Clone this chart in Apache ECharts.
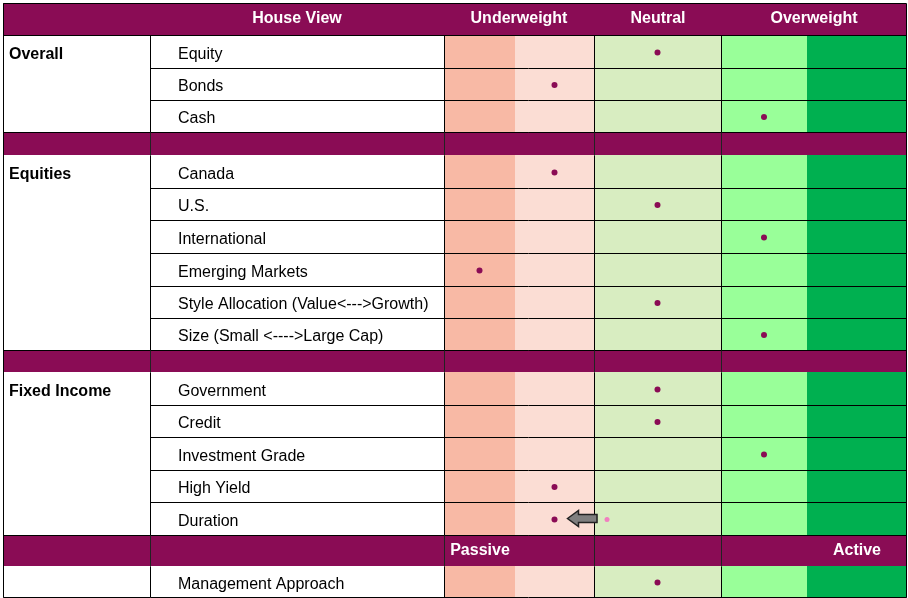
<!DOCTYPE html>
<html><head><meta charset="utf-8">
<script src="https://cdn.jsdelivr.net/npm/echarts@6/dist/echarts.min.js"></script>
<style>html,body{margin:0;padding:0;background:#fff}#c{width:908px;height:598px}</style>
</head><body><div id="c"></div>
<script>
// ---- data ----
const sections = ["Overall", "Equities", "Fixed Income", ""];
const items = [
  ["Equity","Bonds","Cash"],
  ["Canada","U.S.","International","Emerging Markets","Style Allocation (Value<--->Growth)","Size (Small <---->Large Cap)"],
  ["Government","Credit","Investment Grade","High Yield","Duration"],
  ["Management Approach"]
];
// levels: -2 strong underweight .. 2 strong overweight
const levels = [
  [0,-1,1],
  [-1,0,1,-2,0,1],
  [0,0,1,-1,-1],
  [0]
];
const headerLabels = ["House View","Underweight","Neutral","Overweight"];
const footerLabels = ["Passive","Active"];
const durationPrev = -0.49; // previous position of Duration (faded dot)

// ---- layout ----
const colX = [3,150,444,515,594,721,807,906];
const bandColors = ["#F8B9A5","#FBDDD4","#D8EDC1","#99FF99","#00B050"];
const purple = "#8A0C55";
const rowY = [3,35,68,100,132,155,188,220,253,286,318,350,372,405,437,470,502,535,566,597];
const centers = [0,1,2,3,4].map(i => (colX[i+2]+colX[i+3])/2);
function levelX(l){
  const f = l+2, i = Math.min(3, Math.floor(f));
  return centers[i] + (f-i)*(centers[i+1]-centers[i]);
}

const rects=[], lines=[], texts=[], dots=[];
rects.push([colX[0],rowY[0],colX[7],rowY[1],purple]);
texts.push([297,rowY[0]+16,headerLabels[0],'#fff','bold','center']);
texts.push([519,rowY[0]+16,headerLabels[1],'#fff','bold','center']);
texts.push([658,rowY[0]+16,headerLabels[2],'#fff','bold','center']);
texts.push([814,rowY[0]+16,headerLabels[3],'#fff','bold','center']);
let r = 1;
sections.forEach((s,si)=>{
  if(si>0){
    const y0=rowY[r], y1=rowY[r+1];
    rects.push([colX[0],y0,colX[7],y1,purple]);
    if(si===3){
      texts.push([480,(y0+y1)/2,footerLabels[0],'#fff','bold','center']);
      texts.push([857,(y0+y1)/2,footerLabels[1],'#fff','bold','center']);
    }
    [colX[1],colX[2],colX[4],colX[5]].forEach(x=>lines.push([x,y0,x,y1,'#222']));
    r++;
  }
  const top = rowY[r];
  items[si].forEach((it,ii)=>{
    const y0=rowY[r], y1=rowY[r+1];
    for(let c=0;c<5;c++) rects.push([colX[c+2],y0,colX[c+3],y1,bandColors[c]]);
    texts.push([178,(y0+y1)/2+3,it,'#000','normal','left']);
    dots.push([levelX(levels[si][ii]),(y0+y1)/2+1]);
    if(it==="Duration") dots.push([levelX(durationPrev),(y0+y1)/2+1,'prev']);
    lines.push([colX[1],y1,colX[7],y1,'#000']);
    r++;
  });
  const bottom = rowY[r];
  if(s) texts.push([9,top+20,s,'#000','bold','left']);
  lines.push([colX[0],bottom,colX[1],bottom,'#000']);
  [colX[0],colX[1],colX[2],colX[4],colX[5],colX[7]].forEach(x=>lines.push([x,top,x,bottom,'#000']));
});
lines.push([colX[0],rowY[0],colX[7],rowY[0],'#000']);
[colX[0],colX[7]].forEach(x=>lines.push([x,rowY[0],x,rowY[rowY.length-1],'#000']));
lines.push([colX[0],rowY[1],colX[7],rowY[1],'#000']);

const chart = echarts.init(document.getElementById('c'));
chart.setOption({
  animation:false,
  grid:{left:0,right:0,top:0,bottom:0},
  xAxis:{type:'value',min:0,max:908,show:false},
  yAxis:{type:'value',min:0,max:598,inverse:true,show:false},
  series:[
    {type:'custom',data:rects,renderItem:(p,api)=>{
      const a=api.coord([api.value(0),api.value(1)]), b=api.coord([api.value(2),api.value(3)]);
      return {type:'rect',shape:{x:a[0],y:a[1],width:b[0]-a[0],height:b[1]-a[1]},style:{fill:rects[p.dataIndex][4]}};
    }},
    {type:'custom',data:lines,renderItem:(p,api)=>{
      const a=api.coord([api.value(0),api.value(1)]), b=api.coord([api.value(2),api.value(3)]);
      return {type:'line',shape:{x1:a[0]+0.5,y1:a[1]+0.5,x2:b[0]+0.5,y2:b[1]+0.5},style:{stroke:lines[p.dataIndex][4],lineWidth:1}};
    }},
    {type:'custom',data:texts,renderItem:(p,api)=>{
      const t=texts[p.dataIndex], a=api.coord([t[0],t[1]]);
      return {type:'text',x:a[0],y:a[1],style:{text:t[2],fill:t[3],fontWeight:t[4],align:t[5],verticalAlign:'middle',fontSize:16,fontFamily:'"Liberation Sans", Arial, sans-serif'}};
    }},
    {type:'custom',data:dots,renderItem:(p,api)=>{
      const d=dots[p.dataIndex], a=api.coord([d[0],d[1]]);
      const prev=d[2]==='prev';
      const els=[{type:'circle',shape:{cx:a[0],cy:a[1],r:prev?2.5:3},style:{fill:prev?'#F07FBF':purple}}];
      if(prev){
        const cur=api.coord([levelX(levels[2][4]),d[1]]);
        const x0=cur[0]+13, x1=a[0]-10, y=a[1]-1;
        els.push({type:'polygon',shape:{points:[[x0,y],[x0+11,y-8],[x0+11,y-4],[x1,y-4],[x1,y+4],[x0+11,y+4],[x0+11,y+8]]},style:{fill:'#7F7F7F',stroke:'#222',lineWidth:1.5}});
      }
      return {type:'group',children:els};
    }}
  ]
});
</script></body></html>
